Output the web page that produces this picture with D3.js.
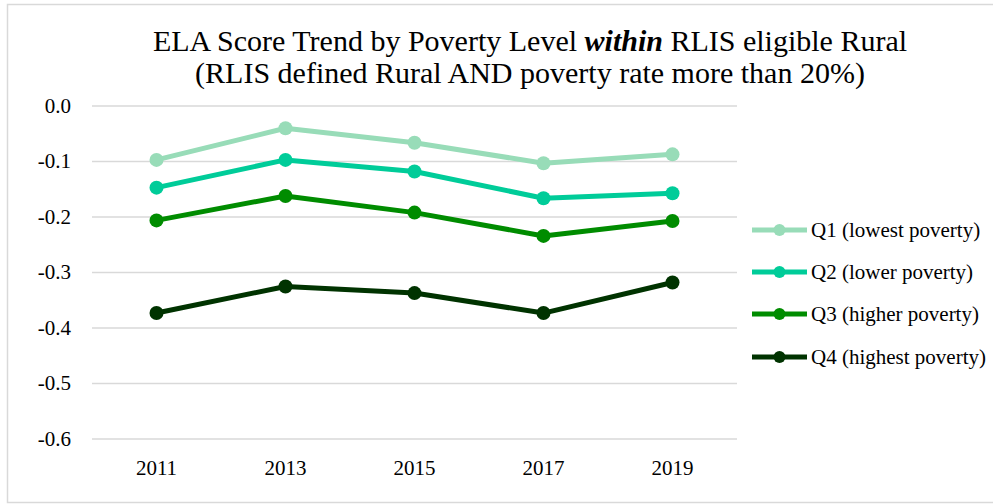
<!DOCTYPE html>
<html lang="en">
<head>
  <meta charset="UTF-8">
  <title>ELA Score Trend by Poverty Level</title>
  <script src="https://d3js.org/d3.v7.min.js"></script>
  <style>
    body { margin: 0; background: white; }
    svg { display: block; }
    svg text { font-family: 'Liberation Serif', 'Times New Roman', serif; }
  </style>
</head>
<body>
  <svg id="chart" width="993" height="504"></svg>
  <script>
    // data
    var years = ["2011", "2013", "2015", "2017", "2019"];
    var seriesNames = ["Q1 (lowest poverty)", "Q2 (lower poverty)", "Q3 (higher poverty)", "Q4 (highest poverty)"];
    var seriesColors = ["#98dcb8", "#00cc99", "#008c00", "#003300"];
    var q1 = [-0.098, -0.041, -0.067, -0.104, -0.088];
    var q2 = [-0.148, -0.098, -0.119, -0.167, -0.158];
    var q3 = [-0.207, -0.163, -0.193, -0.235, -0.208];
    var q4 = [-0.374, -0.326, -0.338, -0.374, -0.319];
    var yTicks = [0, -0.1, -0.2, -0.3, -0.4, -0.5, -0.6];

    var allSeries = [q1, q2, q3, q4];
    var serif = "'Liberation Serif', 'Times New Roman', serif";

    var svg = d3.select("#chart");
    var margin = { left: 92, right: 256, top: 105.5, bottom: 65.5 };
    var width = 993, height = 504;

    // outer chart border
    svg.append("rect")
      .attr("x", 7.5).attr("y", 4.5)
      .attr("width", 992).attr("height", 498)
      .attr("fill", "white")
      .attr("stroke", "#d9d9d9")
      .attr("stroke-width", 1.5);

    var x = d3.scaleBand().domain(years).range([margin.left, width - margin.right]);
    var y = d3.scaleLinear().domain([-0.6, 0]).range([height - margin.bottom, margin.top]);

    // title
    var title = svg.append("text")
      .attr("text-anchor", "middle")
      .attr("font-size", 30)
      .attr("font-family", serif)
      .attr("fill", "#000");
    title.append("tspan").attr("x", 530).attr("y", 51).text("ELA Score Trend by Poverty Level ");
    title.append("tspan").attr("font-weight", "bold").attr("font-style", "italic").text("within");
    title.append("tspan").text(" RLIS eligible Rural");
    svg.append("text")
      .attr("x", 530).attr("y", 83)
      .attr("text-anchor", "middle")
      .attr("font-size", 30)
      .attr("font-family", serif)
      .text("(RLIS defined Rural AND poverty rate more than 20%)");

    // gridlines + y axis labels
    var yAxis = svg.append("g")
      .attr("transform", "translate(" + margin.left + ",0)")
      .call(d3.axisLeft(y).tickValues(yTicks)
        .tickSize(-(width - margin.left - margin.right)).tickPadding(21));
    yAxis.attr("font-family", serif);
    yAxis.select(".domain").remove();
    yAxis.selectAll(".tick line").attr("stroke", "#d9d9d9").attr("stroke-width", 1.5);
    yAxis.selectAll(".tick text")
      .attr("font-size", 21)
      .attr("fill", "#000")
      .text(d => d3.format(".1f")(d).replace("−", "-"));

    // x axis labels
    var xAxis = svg.append("g")
      .attr("transform", "translate(0," + (height - margin.bottom) + ")")
      .call(d3.axisBottom(x).tickSize(0).tickPadding(22));
    xAxis.attr("font-family", serif);
    xAxis.select(".domain").remove();
    xAxis.selectAll(".tick text")
      .attr("font-size", 21)
      .attr("fill", "#000");

    var line = d3.line()
      .x((d, i) => x(years[i]) + x.bandwidth() / 2)
      .y(d => y(d));

    allSeries.forEach(function(vals, s) {
      var g = svg.append("g");
      g.append("path")
        .datum(vals)
        .attr("d", line)
        .attr("fill", "none")
        .attr("stroke", seriesColors[s])
        .attr("stroke-width", 5)
        .attr("stroke-linejoin", "round");
      g.selectAll("circle")
        .data(vals)
        .join("circle")
        .attr("cx", (d, i) => x(years[i]) + x.bandwidth() / 2)
        .attr("cy", d => y(d))
        .attr("r", 7)
        .attr("fill", seriesColors[s]);
    });

    // legend
    var legendY = [230, 272, 314, 357];
    var legend = svg.append("g");
    seriesNames.forEach(function(name, s) {
      var row = legend.append("g").attr("transform", "translate(752," + legendY[s] + ")");
      row.append("line")
        .attr("x1", 0).attr("x2", 55)
        .attr("stroke", seriesColors[s])
        .attr("stroke-width", 5);
      row.append("circle").attr("cx", 27.5).attr("r", 6).attr("fill", seriesColors[s]);
      row.append("text")
        .attr("x", 59).attr("dy", "0.35em")
        .attr("font-size", 21)
        .attr("font-family", serif)
        .attr("fill", "#000")
        .text(name);
    });
  </script>
</body>
</html>
